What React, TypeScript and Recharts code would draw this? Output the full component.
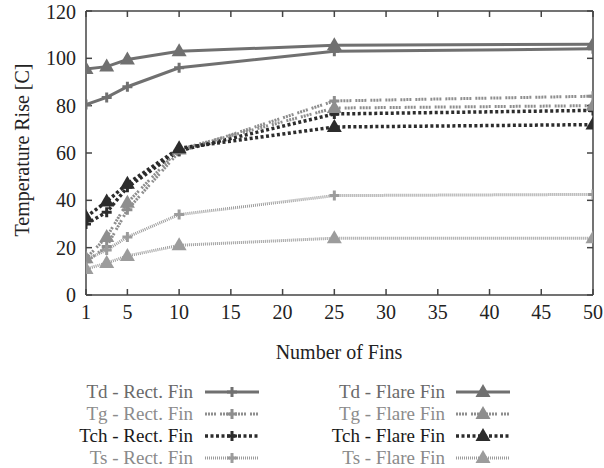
import React from 'react';
import { LineChart, Line, XAxis, YAxis } from 'recharts';

const fins = [1, 3, 5, 10, 25, 50];
const tdRect = [80.5, 83.5, 88, 96, 103, 104];
const tdFlare = [95.5, 96.5, 99.5, 103, 105.5, 106];
const tgRect = [14, 20.5, 36, 60.5, 82, 84];
const tgFlare = [15.5, 24.5, 39, 61.5, 79, 80];
const tchRect = [30, 35, 45.5, 61, 76.5, 78];
const tchFlare = [33, 39.5, 47, 62, 71, 72];
const tsRect = [15, 19, 24.5, 34, 42, 42.5];
const tsFlare = [11, 13.5, 16.5, 21, 24, 24];

const xTicks = [1, 5, 10, 15, 20, 25, 30, 35, 40, 45, 50];
const yTicks = [0, 20, 40, 60, 80, 100, 120];

const data = fins.map((f, i) => ({
  fins: f,
  tdRect: tdRect[i],
  tdFlare: tdFlare[i],
  tgRect: tgRect[i],
  tgFlare: tgFlare[i],
  tchRect: tchRect[i],
  tchFlare: tchFlare[i],
  tsRect: tsRect[i],
  tsFlare: tsFlare[i],
}));

const C_TD = '#707070';
const C_TG = '#8e8e8e';
const C_TCH = '#2c2c2c';
const C_TS = '#9c9c9c';

type S = { key: string; name: string; color: string; text: string; dash?: string; width: number; marker: 'plus' | 'tri' };

const series: S[] = [
  { key: 'tdRect', name: 'Td - Rect. Fin', color: C_TD, text: '#6a6a6a', width: 3, marker: 'plus' },
  { key: 'tgRect', name: 'Tg - Rect. Fin', color: C_TG, text: '#8c8c8c', dash: '2 1 2 1 2 1 2 4', width: 3, marker: 'plus' },
  { key: 'tchRect', name: 'Tch - Rect. Fin', color: C_TCH, text: '#1a1a1a', dash: '3 2.5', width: 3.5, marker: 'plus' },
  { key: 'tsRect', name: 'Ts - Rect. Fin', color: C_TS, text: '#8a8a8a', dash: '1 1', width: 3, marker: 'plus' },
  { key: 'tdFlare', name: 'Td - Flare Fin', color: C_TD, text: '#6a6a6a', width: 3, marker: 'tri' },
  { key: 'tgFlare', name: 'Tg - Flare Fin', color: C_TG, text: '#8c8c8c', dash: '2 1 2 1 2 1 2 4', width: 3, marker: 'tri' },
  { key: 'tchFlare', name: 'Tch - Flare Fin', color: C_TCH, text: '#1a1a1a', dash: '3 2.5', width: 3.5, marker: 'tri' },
  { key: 'tsFlare', name: 'Ts - Flare Fin', color: C_TS, text: '#8a8a8a', dash: '1 1', width: 3, marker: 'tri' },
];

const FONT = '"Liberation Serif", "Times New Roman", serif';

function Marker({ cx, cy, color, kind }: { cx: number; cy: number; color: string; kind: 'plus' | 'tri' }) {
  if (kind === 'plus') {
    return (
      <path d={`M${cx - 5},${cy}h10M${cx},${cy - 5}v10`} stroke={color} strokeWidth={3} fill="none" />
    );
  }
  return <polygon points={`${cx},${cy - 8} ${cx - 7.5},${cy + 5} ${cx + 7.5},${cy + 5}`} fill={color} stroke="none" />;
}

const EmptyTick = () => <g />;

export default function App() {
  return (
    <div style={{ position: 'absolute', left: 0, top: 0, width: 604, height: 468, background: '#fff', fontFamily: FONT }}>
      <LineChart
        width={604}
        height={468}
        data={data}
        margin={{ top: 10, right: 10, bottom: 113, left: 30 }}
      >
        <XAxis
          xAxisId="b"
          dataKey="fins"
          type="number"
          domain={[1, 50]}
          ticks={xTicks}
          allowDataOverflow
          height={60}
          tickSize={-6}
          tickMargin={16}
          axisLine={{ stroke: '#444', strokeWidth: 1.5 }}
          tickLine={{ stroke: '#444', strokeWidth: 1.5 }}
          tick={{ fill: '#222', fontSize: 20, fontFamily: FONT }}
          label={{
            content: () => (
              <text x={339} y={359} textAnchor="middle" fontSize={20} fontFamily={FONT} fill="#222">
                Number of Fins
              </text>
            ),
          }}
        />
        <XAxis
          xAxisId="t"
          orientation="top"
          dataKey="fins"
          type="number"
          domain={[1, 50]}
          ticks={xTicks}
          allowDataOverflow
          height={1}
          tickSize={-6}
          axisLine={{ stroke: '#444', strokeWidth: 1.5 }}
          tickLine={{ stroke: '#444', strokeWidth: 1.5 }}
          tick={<EmptyTick />}
        />
        <YAxis
          yAxisId="l"
          type="number"
          domain={[0, 120]}
          ticks={yTicks}
          allowDataOverflow
          width={56}
          tickSize={-6}
          tickMargin={16}
          axisLine={{ stroke: '#444', strokeWidth: 1.5 }}
          tickLine={{ stroke: '#444', strokeWidth: 1.5 }}
          tick={{ fill: '#222', fontSize: 20, fontFamily: FONT }}
          label={{
            content: () => (
              <text
                x={22}
                y={150}
                textAnchor="middle"
                dominantBaseline="central"
                fontSize={20}
                fontFamily={FONT}
                fill="#222"
                transform="rotate(-90 22 150)"
              >
                Temperature Rise [C]
              </text>
            ),
          }}
        />
        <YAxis
          yAxisId="r"
          orientation="right"
          type="number"
          domain={[0, 120]}
          ticks={yTicks}
          allowDataOverflow
          width={1}
          tickSize={-6}
          axisLine={{ stroke: '#444', strokeWidth: 1.5 }}
          tickLine={{ stroke: '#444', strokeWidth: 1.5 }}
          tick={<EmptyTick />}
        />
        {series.map((s) => (
          <Line
            key={s.key}
            xAxisId="b"
            yAxisId="l"
            type="linear"
            dataKey={s.key}
            name={s.name}
            stroke={s.color}
            strokeWidth={s.width}
            strokeDasharray={s.dash}
            isAnimationActive={false}
            activeDot={false}
            dot={(p: any) => <Marker key={`${s.key}-${p.index}`} cx={p.cx} cy={p.cy} color={s.color} kind={s.marker} />}
          />
        ))}
      </LineChart>
      {series.map((s, i) => {
        const col = i < 4 ? 0 : 1;
        const row = i % 4;
        const textRight = col === 0 ? 193 : 445;
        const lineX = col === 0 ? 205 : 456;
        const y = 392 + row * 22;
        return (
          <React.Fragment key={s.key}>
            <div
              style={{
                position: 'absolute',
                right: 604 - textRight,
                top: y - 12,
                height: 24,
                lineHeight: '24px',
                fontSize: 19,
                fontFamily: FONT,
                color: s.text,
                whiteSpace: 'nowrap',
              }}
            >
              {s.name}
            </div>
            <svg style={{ position: 'absolute', left: lineX, top: y - 10 }} width={56} height={20}>
              <line x1={0} y1={10} x2={54} y2={10} stroke={s.color} strokeWidth={s.width} strokeDasharray={s.dash} />
              <Marker cx={27} cy={10} color={s.color} kind={s.marker} />
            </svg>
          </React.Fragment>
        );
      })}
    </div>
  );
}
